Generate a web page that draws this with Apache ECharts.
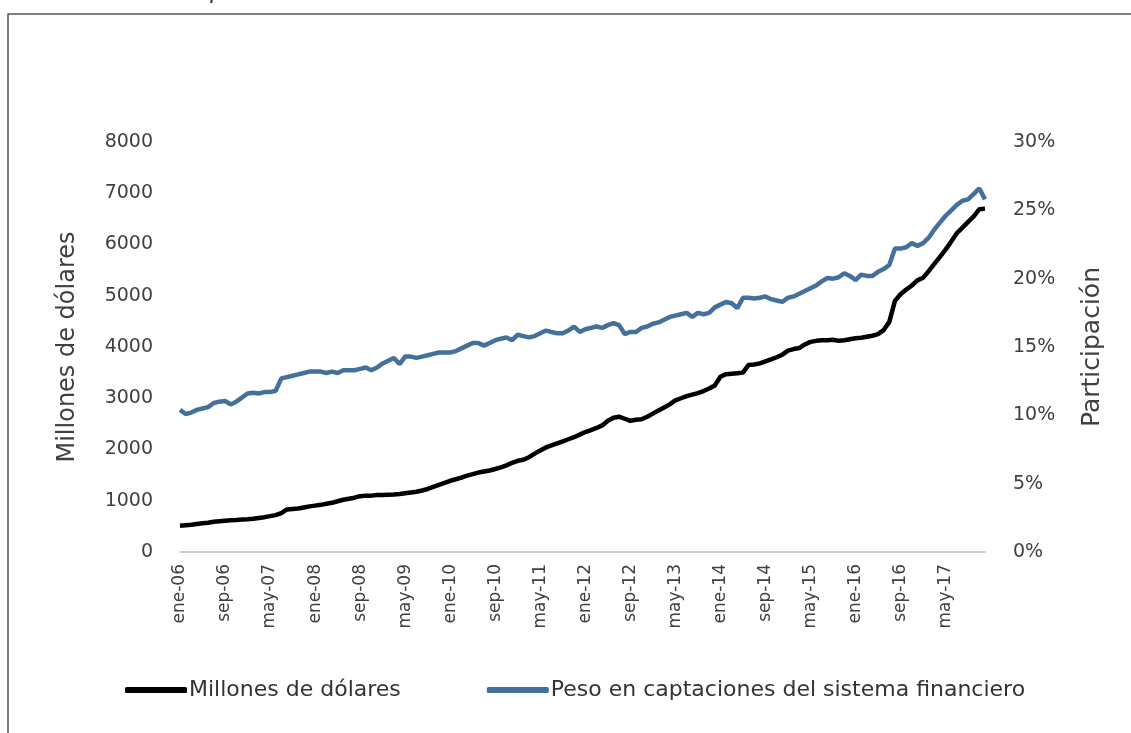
<!DOCTYPE html>
<html>
<head>
<meta charset="utf-8">
<script src="https://cdn.jsdelivr.net/npm/echarts@6/dist/echarts.min.js"></script>
<style>
html,body{margin:0;padding:0;background:#fff;}
#chart{width:1131px;height:733px;}
</style>
</head>
<body>
<div id="chart"></div>
<script>
// meses y años del eje de categorías
var meses = ['ene','feb','mar','abr','may','jun','jul','ago','sep','oct','nov','dic'];
var anios = ['06','07','08','09','10','11','12','13','14','15','16','17'];

// Millones de dólares (mensual, ene-06 a dic-17)
var millones = [
    510, 520, 530, 545, 560, 570, 590, 600, 610, 620, 625, 635,
    640, 650, 665, 680, 700, 720, 760, 830, 840, 850, 870, 890,
    905, 920, 940, 960, 990, 1020, 1040, 1060, 1090, 1100, 1100, 1110,
    1110, 1115, 1120, 1130, 1145, 1160, 1175, 1200, 1230, 1270, 1310, 1350,
    1390, 1420, 1450, 1490, 1520, 1550, 1570, 1590, 1620, 1650, 1690, 1740,
    1780, 1800, 1850, 1920, 1980, 2040, 2080, 2120, 2160, 2200, 2240, 2290,
    2340, 2380, 2420, 2470, 2560, 2620, 2640, 2600, 2560, 2580, 2590, 2640,
    2700, 2760, 2820, 2880, 2960, 3000, 3040, 3070, 3100, 3140, 3190, 3250,
    3420, 3470, 3480, 3490, 3500, 3650, 3660, 3680, 3720, 3760, 3800, 3850,
    3930, 3960, 3980, 4050, 4100, 4120, 4130, 4130, 4140, 4120, 4130, 4150,
    4170, 4180, 4200, 4220, 4250, 4330, 4490, 4900, 5030, 5120, 5200, 5300,
    5350, 5480, 5620, 5760, 5900, 6060, 6220, 6330, 6440, 6550, 6690, 6700
];

// Peso en captaciones del sistema financiero (%)
var peso = [
    10.4, 10.1, 10.2, 10.4, 10.5, 10.6, 10.9, 11.0, 11.05, 10.8, 11.0, 11.3,
    11.6, 11.65, 11.6, 11.7, 11.7, 11.8, 12.7, 12.8, 12.9, 13.0, 13.1, 13.2,
    13.2, 13.2, 13.1, 13.2, 13.1, 13.3, 13.3, 13.3, 13.4, 13.5, 13.3, 13.5,
    13.8, 14.0, 14.2, 13.75, 14.3, 14.3, 14.2, 14.3, 14.4, 14.5, 14.6, 14.6,
    14.6, 14.7, 14.9, 15.1, 15.3, 15.3, 15.1, 15.3, 15.5, 15.6, 15.7, 15.5,
    15.9, 15.8, 15.7, 15.8, 16.0, 16.2, 16.1, 16.0, 16.0, 16.2, 16.5, 16.1,
    16.3, 16.4, 16.5, 16.4, 16.6, 16.75, 16.6, 15.95, 16.1, 16.1, 16.4, 16.5,
    16.7, 16.8, 17.0, 17.2, 17.3, 17.4, 17.5, 17.2, 17.5, 17.4, 17.5, 17.9,
    18.1, 18.3, 18.2, 17.85, 18.6, 18.6, 18.55, 18.6, 18.7, 18.5, 18.4, 18.3,
    18.6, 18.7, 18.9, 19.1, 19.3, 19.5, 19.8, 20.05, 20.0, 20.1, 20.4, 20.2,
    19.9, 20.3, 20.2, 20.2, 20.5, 20.7, 21.0, 22.2, 22.2, 22.3, 22.6, 22.4,
    22.6, 23.0, 23.6, 24.1, 24.6, 25.0, 25.4, 25.7, 25.8, 26.2, 26.6, 25.8
];

var categorias = [];
anios.forEach(function (a) {
    meses.forEach(function (m) {
        categorias.push(m + '-' + a);
    });
});

var fuente = 'DejaVu Sans';
var chart = echarts.init(document.getElementById('chart'));

var option = {
    backgroundColor: '#fff',
    animation: false,
    graphic: [
        {
            type: 'rect',
            shape: {x: 8, y: 14, width: 1200, height: 800},
            style: {fill: 'none', stroke: '#555', lineWidth: 1.5},
            silent: true
        },
        {
            type: 'text',
            left: 45,
            top: -17,
            style: {
                text: 'Evolución de captaciones en dólares del sistema',
                font: 'italic 21px ' + fuente,
                fill: '#222'
            },
            silent: true
        }
    ],
    grid: {left: 180, right: 146, top: 142, bottom: 181},
    legend: {
        left: 120,
        top: 674,
        itemWidth: 62,
        itemHeight: 6,
        itemGap: 86,
        icon: 'roundRect',
        textStyle: {fontFamily: fuente, fontSize: 22, color: '#333', padding: [0, 0, 0, -3]},
        data: ['Millones de dólares', 'Peso en captaciones del sistema financiero']
    },
    xAxis: {
        type: 'category',
        data: categorias,
        boundaryGap: false,
        axisLine: {lineStyle: {color: '#bfbfbf', width: 1.5}},
        axisTick: {show: false},
        axisLabel: {
            interval: 7,
            rotate: 90,
            margin: 12,
            fontFamily: fuente,
            fontSize: 17,
            color: '#404040'
        }
    },
    yAxis: [
        {
            type: 'value',
            min: 0,
            max: 8000,
            interval: 1000,
            name: 'Millones de dólares',
            nameLocation: 'middle',
            nameGap: 100,
            nameTextStyle: {fontFamily: fuente, fontSize: 24, color: '#404040'},
            axisLine: {show: false},
            axisTick: {show: false},
            splitLine: {show: false},
            axisLabel: {
                margin: 27, fontFamily: fuente, fontSize: 19, color: '#404040',
                formatter: function (v) { return String(v); }
            }
        },
        {
            type: 'value',
            min: 0,
            max: 30,
            interval: 5,
            name: 'Participación',
            nameLocation: 'middle',
            nameRotate: 90,
            nameGap: 95,
            nameTextStyle: {fontFamily: fuente, fontSize: 25, color: '#404040'},
            axisLine: {show: false},
            axisTick: {show: false},
            splitLine: {show: false},
            axisLabel: {margin: 28, fontFamily: fuente, fontSize: 19, color: '#404040', formatter: '{value}%'}
        }
    ],
    series: [
        {
            name: 'Millones de dólares',
            type: 'line',
            yAxisIndex: 0,
            data: millones,
            symbol: 'none',
            lineStyle: {color: '#000', width: 4.5},
            itemStyle: {color: '#000'}
        },
        {
            name: 'Peso en captaciones del sistema financiero',
            type: 'line',
            yAxisIndex: 1,
            data: peso,
            symbol: 'none',
            lineStyle: {color: '#45709c', width: 4.5},
            itemStyle: {color: '#45709c'}
        }
    ]
};

chart.setOption(option);
</script>
</body>
</html>
